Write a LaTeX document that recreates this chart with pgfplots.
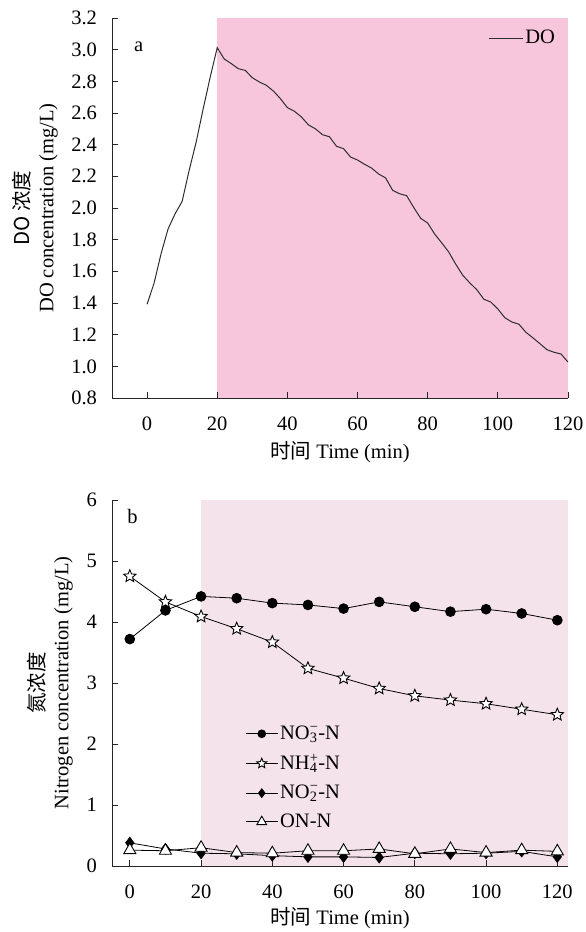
\documentclass[border=0pt]{standalone}
\usepackage{pgfplots}
\pgfplotsset{compat=1.18}
\usepackage{fontspec}
\setmainfont{Liberation Serif}
\newfontfamily\cjk{Noto Sans CJK SC}
\definecolor{pinkA}{RGB}{247,197,220}
\definecolor{pinkB}{RGB}{245,227,236}
\definecolor{lineg}{RGB}{45,45,45}
\newcommand\ion[2]{\mbox{\setbox0\hbox{\textsubscript{#1}}\setbox2\hbox{\textsuperscript{#2}}\ifdim\wd0>\wd2 \rlap{\box2}\box0\else\rlap{\box0}\box2\fi}}

\pgfdeclareplotmark{pentastar}{%
  \pgfpathmoveto{\pgfpointpolar{90}{\pgfplotmarksize}}%
  \pgfpathlineto{\pgfpointpolar{126}{0.45\pgfplotmarksize}}%
  \pgfpathlineto{\pgfpointpolar{162}{\pgfplotmarksize}}%
  \pgfpathlineto{\pgfpointpolar{198}{0.45\pgfplotmarksize}}%
  \pgfpathlineto{\pgfpointpolar{234}{\pgfplotmarksize}}%
  \pgfpathlineto{\pgfpointpolar{270}{0.45\pgfplotmarksize}}%
  \pgfpathlineto{\pgfpointpolar{306}{\pgfplotmarksize}}%
  \pgfpathlineto{\pgfpointpolar{342}{0.45\pgfplotmarksize}}%
  \pgfpathlineto{\pgfpointpolar{18}{\pgfplotmarksize}}%
  \pgfpathlineto{\pgfpointpolar{54}{0.45\pgfplotmarksize}}%
  \pgfpathclose
  \pgfusepathqfillstroke
}

\pgfplotstableread{
x y
0 1.392
2 1.526
4 1.712
6 1.869
8 1.964
10 2.042
12 2.238
14 2.417
16 2.627
18 2.827
20 3.013
22 2.941
24 2.912
26 2.880
28 2.869
30 2.823
32 2.796
34 2.775
36 2.739
38 2.691
40 2.634
42 2.611
44 2.575
46 2.525
48 2.500
50 2.463
52 2.450
54 2.390
56 2.375
58 2.322
60 2.303
62 2.276
64 2.252
66 2.215
68 2.190
70 2.112
72 2.090
74 2.078
76 2.004
78 1.935
80 1.905
82 1.835
84 1.780
86 1.722
88 1.645
90 1.575
92 1.527
94 1.484
96 1.424
98 1.406
100 1.362
102 1.307
104 1.280
106 1.266
108 1.215
110 1.180
112 1.143
114 1.105
116 1.089
118 1.078
120 1.027
}\dotable

\pgfplotstableread{
x no3 nh4 no2 on
0 3.72 4.75 0.38 0.26
10 4.19 4.33 0.28 0.25
20 4.42 4.09 0.21 0.30
30 4.39 3.89 0.20 0.22
40 4.31 3.67 0.17 0.21
50 4.28 3.24 0.15 0.25
60 4.22 3.08 0.15 0.25
70 4.33 2.91 0.14 0.28
80 4.25 2.79 0.21 0.20
90 4.17 2.72 0.20 0.28
100 4.21 2.66 0.21 0.22
110 4.14 2.57 0.24 0.26
120 4.03 2.48 0.15 0.24
}\ntable

\pgfplotsset{
  myaxis/.style={
    scale only axis, width=456pt,
    axis lines=left, axis line style={-, line width=0.9pt, black!85},
    tick align=inside, major tick length=6pt,
    tick style={black!85, line width=0.8pt},
    axis on top, clip=false,
    /pgf/number format/assume math mode=true,
    xtick={0,20,...,120},
    x tick label style={yshift=-12pt},
    y tick label style={xshift=-8pt},
    ylabel style={align=center},
    legend style={draw=none, fill=none, inner sep=0pt},
    legend cell align=left,
  }
}

\begin{document}
\fontsize{20.5}{24}\selectfont
\begin{tikzpicture}
\path[use as bounding box] (0,0) rectangle (586pt,-932pt);
% Panel a
\begin{axis}[myaxis, at={(112pt,-398pt)}, anchor=south west, height=380pt,
  xmin=-10, xmax=120, ymin=0.8, ymax=3.2,
  ytick={0.8,1.0,...,3.21},
  yticklabel style={/pgf/number format/.cd, fixed, fixed zerofill, precision=1},
  ylabel={{\cjk DO 浓度}\\DO concentration (mg/L)},
  ylabel style={at={(axis description cs:-0.169,0.5)}, anchor=center},
  xlabel={{\cjk 时间} Time (min)},
  xlabel style={at={(axis description cs:0.5,-0.142)}, anchor=center},
  legend style={at={(axis description cs:0.976,0.975)}, anchor=north east},
  legend image code/.code={\draw[#1] (0pt,0pt) -- (34pt,0pt);},
]
\addplot[fill=pinkA, draw=none, forget plot] coordinates {(20,0.8) (120,0.8) (120,3.2) (20,3.2)} -- cycle;
\addplot[lineg, line width=1pt] table[x=x, y=y] {\dotable};
\addlegendentry{DO}
\node[anchor=base west, inner sep=0pt] at (axis description cs:0.048,0.911) {a};
\end{axis}
% Panel b
\begin{axis}[myaxis, at={(112pt,-866pt)}, anchor=south west, height=366pt,
  xmin=-5, xmax=123, ymin=0, ymax=6,
  ytick={0,1,...,6},
  ylabel={{\cjk 氮浓度}\\Nitrogen concentration (mg/L)},
  ylabel style={at={(axis description cs:-0.136,0.5)}, anchor=center},
  xlabel={{\cjk 时间} Time (min)},
  xlabel style={at={(axis description cs:0.5,-0.142)}, anchor=center},
  legend style={at={(axis description cs:0.292,0.39)}, anchor=north west, row sep=8pt},
  legend image code/.code={\draw[mark repeat=2,mark phase=2,#1,/tikz/every mark/.append style={scale=0.8}] plot coordinates {(0pt,0pt) (16pt,0pt) (32pt,0pt)};},
]
\addplot[fill=pinkB, draw=none, forget plot] coordinates {(20,0) (123,0) (123,6) (20,6)} -- cycle;
\addplot[black, line width=0.8pt, mark=*, mark size=4.9pt, mark options={fill=black}] table[x=x, y=no3] {\ntable};
\addlegendentry{NO\ion{3}{−}-N}
\addplot[black, line width=0.8pt, mark=pentastar, mark size=6.5pt, mark options={fill=white, line width=0.9pt}] table[x=x, y=nh4] {\ntable};
\addlegendentry{NH\ion{4}{+}-N}
\addplot[black, line width=0.8pt, mark=diamond*, mark size=5.5pt, mark options={fill=black}] table[x=x, y=no2] {\ntable};
\addlegendentry{NO\ion{2}{−}-N}
\addplot[black, line width=0.8pt, mark=triangle*, mark size=7pt, mark options={fill=white, line width=0.9pt}] table[x=x, y=on] {\ntable};
\addlegendentry{ON-N}
\node[anchor=base west, inner sep=0pt] at (axis description cs:0.033,0.937) {b};
\end{axis}
\end{tikzpicture}
\end{document}
